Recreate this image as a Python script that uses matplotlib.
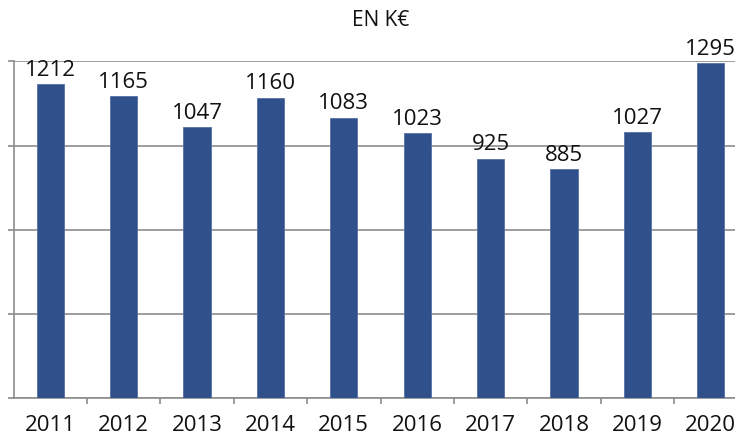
import matplotlib
matplotlib.use("Agg")
import matplotlib.pyplot as plt

years = ["2011", "2012", "2013", "2014", "2015", "2016", "2017", "2018", "2019", "2020"]
values = [1212, 1165, 1047, 1160, 1083, 1023, 925, 885, 1027, 1295]
grid_ticks = [0, 325, 650, 975, 1300]

plt.rcParams['font.family'] = ['Open Sans', 'DejaVu Sans']

bar_color = '#30508C'
grid_color = '#8C8C8C'
text_color = '#111111'

fig = plt.figure(figsize=(7.35, 4.36), dpi=100)
# axes runs a little past the right edge, like the source
ax = fig.add_axes([13.5 / 735, 38 / 436, 734 / 735, 336.5 / 436])

x = range(len(years))
ax.bar(x, values, width=0.37, color=bar_color, edgecolor='#5670A8', linewidth=0.6, zorder=3)

# value labels, baseline ~8px above the bar top
for i, v in zip(x, values):
    ax.text(i, v + 32, str(v), ha='center', va='baseline', fontsize=16,
            color=text_color, clip_on=False, zorder=4)

ax.set_xlim(-0.5, len(years) - 0.5)
ax.set_ylim(0, 1300)
ax.set_yticks(grid_ticks)
ax.set_yticklabels([])
ax.yaxis.grid(True, color=grid_color, linewidth=1.2, zorder=0)
ax.set_axisbelow(True)

# category labels in the middle, tick marks on the boundaries
ax.set_xticks(list(x))
ax.set_xticklabels(years, fontsize=16, color=text_color)
ax.tick_params(axis='x', which='major', length=0, pad=12)
ax.set_xticks([i + 0.5 for i in x], minor=True)
ax.tick_params(axis='x', which='minor', length=4, width=1.2, color=grid_color, direction='out')
ax.tick_params(axis='y', length=4, width=1.2, color=grid_color, direction='out')

for side in ['top', 'right']:
    ax.spines[side].set_visible(False)
for side in ['left', 'bottom']:
    ax.spines[side].set_color(grid_color)
    ax.spines[side].set_linewidth(1.2)

fig.text(381 / 735, 1 - 21 / 436, "EN K€", ha='center', va='center', fontsize=15, color=text_color)

plt.savefig("out.png", dpi=100)
